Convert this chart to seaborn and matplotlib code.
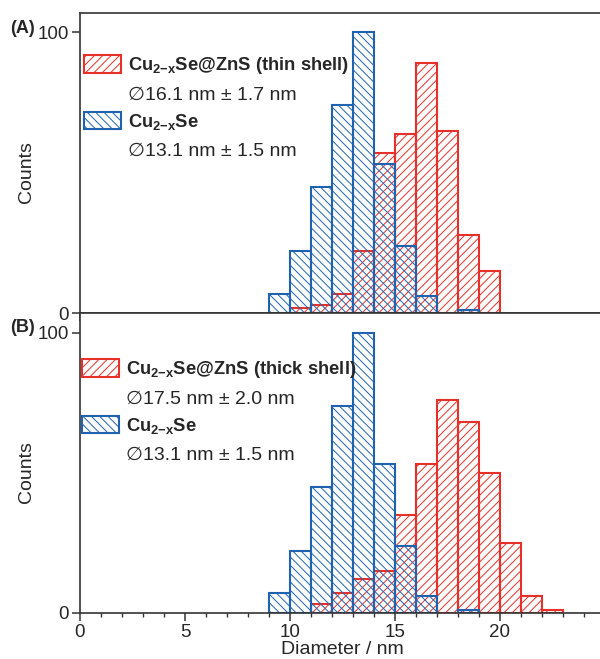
import numpy as np
import pandas as pd
import matplotlib
matplotlib.use("Agg")
import matplotlib.pyplot as plt
from matplotlib.patches import Rectangle
from matplotlib.ticker import MultipleLocator, FixedLocator
import seaborn as sns

# Size distributions, 1 nm bins (left edge of each bin)
bin_left = [9, 10, 11, 12, 13, 14, 15, 16, 17, 18, 19, 20, 21, 22]
core_counts = [7, 22, 45, 74, 100, 53, 24, 6, 0, 1, 0, 0, 0, 0]
thin_shell_counts = [0, 2, 3, 7, 22, 57, 64, 89, 65, 28, 15, 0, 0, 0]
thick_shell_counts = [0, 0, 3, 7, 12, 15, 35, 53, 76, 68, 50, 25, 6, 1]

x_ticks = [0, 5, 10, 15, 20]
y_ticks = [0, 100]

core_label = "Cu$_{\\mathbf{2{-}x}}$Se"
core_stats = "\u2205" + "13.1 nm \u00b1 1.5 nm"
thin_label = "Cu$_{\\mathbf{2{-}x}}$Se@ZnS (thin shell)"
thin_stats = "\u2205" + "16.1 nm \u00b1 1.7 nm"
thick_label = "Cu$_{\\mathbf{2{-}x}}$Se@ZnS (thick shell)"
thick_stats = "\u2205" + "17.5 nm \u00b1 2.0 nm"

RED = "#e8302a"
BLUE = "#1f63b0"

sns.set_style("ticks")
plt.rcParams["font.family"] = ["Liberation Sans", "DejaVu Sans"]
plt.rcParams["mathtext.fontset"] = "custom"
plt.rcParams["mathtext.rm"] = "Liberation Sans"
plt.rcParams["mathtext.bf"] = "Liberation Sans:bold"
plt.rcParams["hatch.linewidth"] = 0.7
plt.rcParams["axes.edgecolor"] = "#333333"
plt.rcParams["axes.linewidth"] = 1.2

bin_width = 1.0
centers = np.array(bin_left, dtype=float) + bin_width / 2

fig = plt.figure(figsize=(6.0, 6.59), dpi=100)
ax_a = fig.add_axes([0.1333, 0.5246, 0.875, 0.4561])
ax_b = fig.add_axes([0.1333, 0.0703, 0.875, 0.4543])


def draw_hist(ax, counts, color, hatch):
    before = len(ax.patches)
    df = pd.DataFrame({"diameter": centers, "count": np.array(counts, dtype=float)})
    sns.histplot(data=df, x="diameter", weights="count", binwidth=bin_width,
                 binrange=(bin_left[0], bin_left[-1] + bin_width), ax=ax,
                 fill=True, facecolor="none", edgecolor=color, hatch=hatch,
                 linewidth=1.5)
    # empty bins would leave a flat line on the baseline
    for p in ax.patches[before:]:
        if p.get_height() == 0:
            p.remove()


def style_axis(ax, show_xlabels):
    ax.set_xlim(0, 25)
    ax.set_ylim(0, 107)
    ax.xaxis.set_major_locator(FixedLocator(x_ticks))
    ax.xaxis.set_minor_locator(MultipleLocator(1))
    ax.yaxis.set_major_locator(FixedLocator(y_ticks))
    ax.tick_params(axis="both", which="major", direction="out", length=6,
                   width=1.1, color="#333333", labelsize=13.5, pad=2)
    ax.tick_params(axis="x", which="minor", direction="out", length=3,
                   width=1.0, color="#333333")
    if not show_xlabels:
        ax.tick_params(axis="x", labelbottom=False)
        ax.set_xlabel("")
    else:
        ax.set_xlabel("Diameter / nm", fontsize=14, labelpad=0)
    ax.set_ylabel("Counts", fontsize=14)
    for s in ax.spines.values():
        s.set_visible(True)


def add_legend(ax, shell_label, shell_stats, anchor):
    blank = Rectangle((0, 0), 1, 1, facecolor="none", edgecolor="none")
    handles = [
        Rectangle((0, 0), 1, 1, facecolor="none", edgecolor=RED, hatch="////", linewidth=1.5),
        blank,
        Rectangle((0, 0), 1, 1, facecolor="none", edgecolor=BLUE, hatch="\\\\\\\\", linewidth=1.5),
        blank,
    ]
    labels = [shell_label, shell_stats, core_label, core_stats]
    leg = ax.legend(handles, labels, loc="upper left", bbox_to_anchor=anchor,
                    frameon=False, fontsize=13.5, borderpad=0, borderaxespad=0,
                    handlelength=2.0, handleheight=1.05, handletextpad=0.33,
                    labelspacing=0.44)
    for i, t in enumerate(leg.get_texts()):
        if i in (0, 2):
            t.set_fontweight("bold")
            t.set_fontsize(13.2)
        else:
            t.set_fontsize(14)
    return leg


draw_hist(ax_a, thin_shell_counts, RED, "////")
draw_hist(ax_a, core_counts, BLUE, "\\\\\\\\")
draw_hist(ax_b, thick_shell_counts, RED, "////")
draw_hist(ax_b, core_counts, BLUE, "\\\\\\\\")

style_axis(ax_a, False)
style_axis(ax_b, True)
ax_a.yaxis.set_label_coords(-0.085, 0.47)
ax_b.yaxis.set_label_coords(-0.085, 0.47)

add_legend(ax_a, thin_label, thin_stats, (0.0076, 0.858))
add_legend(ax_b, thick_label, thick_stats, (0.0038, 0.846))

fig.text(0.0167, 0.9575, "(A)", fontsize=13, fontweight="bold", va="center", ha="left")
fig.text(0.0167, 0.5023, "(B)", fontsize=13, fontweight="bold", va="center", ha="left")

fig.savefig("out.png", dpi=100)
